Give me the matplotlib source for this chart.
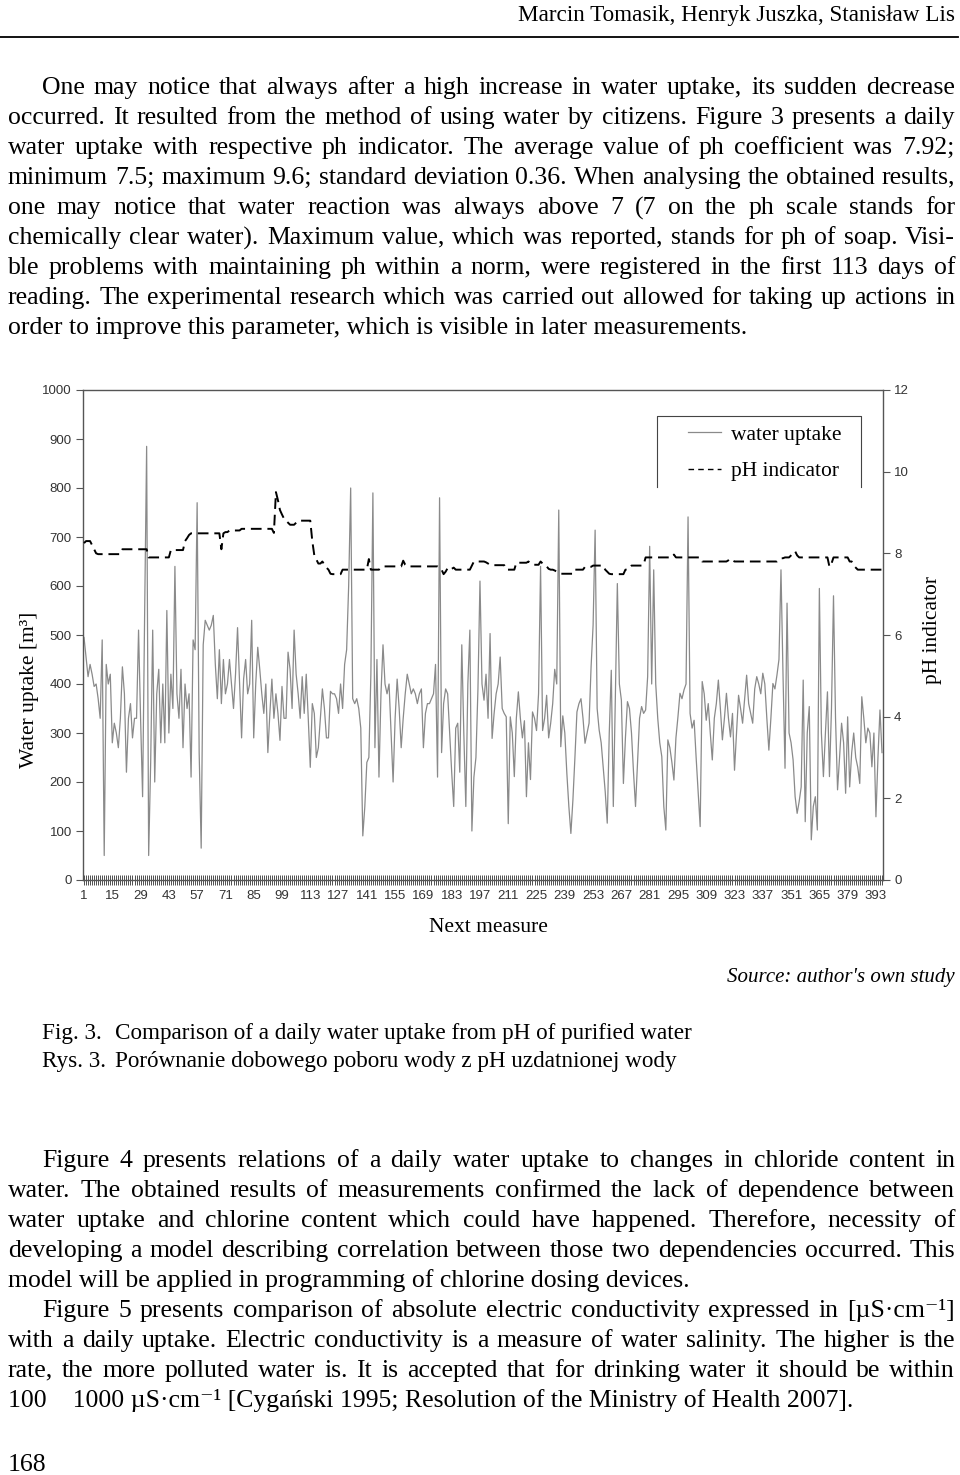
import math
import numpy as np
import matplotlib
matplotlib.use("Agg")
import matplotlib.pyplot as plt
from matplotlib.lines import Line2D

W, H = 960, 1475
SERIF = ["Liberation Serif", "DejaVu Serif"]
SANS = ["Liberation Sans", "DejaVu Sans"]

# daily water uptake [m3]
water = [
    495, 455, 415, 440, 420, 395, 400, 370, 330, 490,
    50, 440, 400, 420, 280, 320, 300, 270, 330, 435,
    380, 220, 330, 360, 290, 330, 330, 510, 330, 170,
    540, 885, 50, 240, 510, 200, 380, 430, 280, 400,
    280, 550, 300, 420, 350, 640, 380, 330, 430, 270,
    400, 350, 380, 210, 490, 470, 770, 260, 65, 480,
    530, 520, 510, 520, 540, 440, 370, 470, 360, 450,
    380, 400, 450, 400, 350, 420, 515, 400, 290, 410,
    450, 380, 400, 530, 290, 400, 475, 430, 380, 340,
    400, 260, 340, 410, 330, 380, 340, 285, 395, 330,
    330, 465, 430, 350, 510, 420, 380, 330, 415, 340,
    420, 330, 230, 360, 340, 250, 270, 330, 390, 350,
    290, 290, 385, 380, 380, 370, 340, 400, 350, 440,
    470, 600, 800, 370, 360, 370, 350, 310, 90, 150,
    240, 250, 420, 790, 270, 450, 210, 380, 480, 400,
    380, 400, 300, 200, 330, 410, 350, 270, 330, 380,
    420, 400, 380, 390, 380, 360, 380, 390, 270, 340,
    360, 360, 370, 380, 440, 210, 780, 260, 360, 390,
    380, 300, 220, 150, 310, 320, 220, 480, 300, 150,
    400, 510, 100, 210, 250, 390, 610, 400, 367, 420,
    330, 503, 289, 340, 380, 400, 455, 350, 340, 333,
    115, 333, 300, 211, 330, 384, 330, 290, 325, 170,
    280, 205, 343, 330, 305, 380, 640, 305, 330, 377,
    290, 320, 360, 430, 400, 755, 272, 335, 300, 218,
    150, 95, 163, 250, 343, 360, 370, 330, 279, 300,
    320, 435, 520, 714, 350, 306, 280, 230, 180, 116,
    300, 428, 150, 370, 605, 400, 367, 197, 290, 364,
    350, 300, 220, 150, 240, 330, 354, 340, 347, 415,
    681, 400, 633, 400, 330, 280, 252, 150, 102, 286,
    270, 240, 204, 290, 333, 381, 370, 388, 400, 741,
    340, 310, 326, 250, 180, 109, 405, 380, 326, 360,
    300, 245, 330, 360, 408, 350, 286, 330, 381, 330,
    292, 340, 224, 300, 377, 350, 320, 370, 418, 360,
    340, 320, 390, 415, 400, 380, 422, 400, 330, 265,
    330, 401, 390, 418, 450, 633, 420, 228, 565, 300,
    280, 245, 170, 136, 160, 190, 408, 119, 300, 354,
    82, 150, 170, 102, 595, 300, 211, 300, 384, 211,
    350, 580, 330, 184, 250, 320, 280, 177, 333, 190,
    260, 300, 250, 230, 197, 374, 330, 280, 310, 300,
    231, 300, 129, 250, 347, 260,
]

# pH indicator
ph = [
    8.25, 8.3, 8.3, 8.3, 8.2, 8.1, 8.0, 7.98, 7.98, 7.98,
    7.98, 7.98, 7.98, 7.98, 7.98, 7.98, 7.98, 7.98, 7.98, 8.1,
    8.1, 8.1, 8.1, 8.1, 8.1, 8.1, 8.1, 8.1, 8.1, 8.1,
    8.1, 8.1, 7.9, 7.9, 7.9, 7.9, 7.9, 7.9, 7.9, 7.9,
    7.9, 7.9, 7.9, 8.08, 8.08, 8.08, 8.08, 8.08, 8.08, 8.08,
    8.3, 8.37, 8.45, 8.49, 8.49, 8.49, 8.49, 8.49, 8.49, 8.49,
    8.49, 8.49, 8.49, 8.49, 8.49, 8.49, 8.49, 8.49, 8.1, 8.49,
    8.52, 8.52, 8.56, 8.56, 8.56, 8.56, 8.56, 8.56, 8.6, 8.6,
    8.6, 8.6, 8.6, 8.6, 8.6, 8.6, 8.6, 8.6, 8.6, 8.6,
    8.6, 8.6, 8.6, 8.6, 8.5, 9.5, 9.3, 9.06, 8.95, 8.85,
    8.8, 8.75, 8.7, 8.7, 8.7, 8.75, 8.8, 8.8, 8.8, 8.8,
    8.8, 8.8, 8.8, 8.3, 7.95, 7.85, 7.75, 7.75, 7.8, 7.72,
    7.65, 7.6, 7.5, 7.49, 7.49, 7.49, 7.49, 7.49, 7.6, 7.6,
    7.6, 7.6, 7.6, 7.6, 7.6, 7.6, 7.6, 7.6, 7.6, 7.6,
    7.6, 7.86, 7.6, 7.6, 7.6, 7.6, 7.6, 7.65, 7.68, 7.68,
    7.68, 7.68, 7.68, 7.68, 7.68, 7.68, 7.68, 7.68, 7.82, 7.72,
    7.68, 7.68, 7.68, 7.68, 7.68, 7.68, 7.68, 7.68, 7.68, 7.68,
    7.68, 7.68, 7.68, 7.68, 7.68, 7.68, 7.65, 7.6, 7.49, 7.55,
    7.64, 7.6, 7.62, 7.65, 7.6, 7.6, 7.6, 7.6, 7.6, 7.6,
    7.6, 7.6, 7.7, 7.8, 7.8, 7.8, 7.8, 7.8, 7.8, 7.78,
    7.75, 7.72, 7.71, 7.71, 7.71, 7.71, 7.71, 7.71, 7.71, 7.6,
    7.6, 7.6, 7.6, 7.6, 7.77, 7.77, 7.77, 7.77, 7.77, 7.77,
    7.8, 7.75, 7.72, 7.72, 7.72, 7.72, 7.8, 7.75, 7.7, 7.68,
    7.62, 7.6, 7.6, 7.58, 7.55, 7.52, 7.5, 7.5, 7.5, 7.5,
    7.5, 7.5, 7.5, 7.6, 7.6, 7.6, 7.6, 7.6, 7.67, 7.67,
    7.67, 7.67, 7.7, 7.7, 7.7, 7.7, 7.7, 7.7, 7.6, 7.55,
    7.5, 7.49, 7.49, 7.49, 7.49, 7.49, 7.49, 7.49, 7.6, 7.6,
    7.65, 7.7, 7.7, 7.7, 7.7, 7.7, 7.7, 7.72, 7.9, 7.9,
    7.9, 7.9, 7.9, 7.9, 7.9, 7.9, 7.9, 7.9, 7.9, 7.9,
    7.9, 7.9, 7.97, 7.9, 7.9, 7.9, 7.9, 7.9, 7.9, 7.9,
    7.9, 7.9, 7.9, 7.9, 7.9, 7.9, 7.8, 7.8, 7.8, 7.8,
    7.8, 7.8, 7.8, 7.8, 7.8, 7.8, 7.8, 7.8, 7.8, 7.83,
    7.87, 7.83, 7.8, 7.8, 7.8, 7.8, 7.8, 7.8, 7.8, 7.8,
    7.8, 7.8, 7.8, 7.8, 7.8, 7.8, 7.8, 7.8, 7.8, 7.8,
    7.8, 7.8, 7.8, 7.8, 7.85, 7.88, 7.88, 7.9, 7.9, 7.9,
    7.95, 8.0, 8.05, 7.95, 7.9, 7.9, 7.9, 7.9, 7.9, 7.9,
    7.9, 7.9, 7.9, 7.9, 7.9, 7.9, 7.9, 7.9, 7.9, 7.67,
    7.75, 7.9, 7.9, 7.9, 7.9, 7.9, 7.9, 7.9, 7.9, 7.8,
    7.8, 7.7, 7.65, 7.6, 7.6, 7.6, 7.6, 7.6, 7.6, 7.6,
    7.6, 7.6, 7.6, 7.6, 7.6, 7.6,
]

days = np.arange(1, len(water) + 1)
x_labels = list(range(1, 394, 14))
water_ticks = list(range(0, 1001, 100))
ph_ticks = list(range(0, 13, 2))

header = "Marcin Tomasik, Henryk Juszka, Stanisław Lis"
para1 = [
    "One may notice that always after a high increase in water uptake, its sudden decrease",
    "occurred. It resulted from the method of using water by citizens. Figure 3 presents a daily",
    "water uptake with respective ph indicator. The average value of ph coefficient was 7.92;",
    "minimum 7.5; maximum 9.6; standard deviation 0.36. When analysing the obtained results,",
    "one may notice that water reaction was always above 7 (7 on the ph scale stands for",
    "chemically clear water). Maximum value, which was reported, stands for ph of soap. Visi-",
    "ble problems with maintaining ph within a norm, were registered in the first 113 days of",
    "reading. The experimental research which was carried out allowed for taking up actions in",
    "order to improve this parameter, which is visible in later measurements.",
]
para2 = [
    "Figure 4 presents relations of a daily water uptake to changes in chloride content in",
    "water. The obtained results of measurements confirmed the lack of dependence between",
    "water uptake and chlorine content which could have happened. Therefore, necessity of",
    "developing a model describing correlation between those two dependencies occurred. This",
    "model will be applied in programming of chlorine dosing devices.",
]
para3 = [
    "Figure 5 presents comparison of absolute electric conductivity expressed in [µS·cm⁻¹]",
    "with a daily uptake. Electric conductivity is a measure of water salinity. The higher is the",
    "rate, the more polluted water is. It is accepted that for drinking water it should be within",
    "100    1000 µS·cm⁻¹ [Cygański 1995; Resolution of the Ministry of Health 2007].",
]

FS = 18.5      # body text
FS_CAP = 16.7  # header and figure caption

fig = plt.figure(figsize=(W / 100, H / 100), dpi=100)
renderer = fig.canvas.get_renderer()


def fx(x):
    return x / W


def fy(y):
    return 1 - y / H


def place(t, x, y):
    # put the baseline of t on pixel row y; Agg rounds the glyph bitmap,
    # which drops words whose only descender is a comma or bracket
    _, h, d = renderer.get_text_width_height_descent(t.get_text(), t.get_fontproperties(), False)
    a = h - d
    yb = round(y) - math.floor(a + 1e-6) + math.floor(h + 1e-6) - d
    t.set_position((fx(x), fy(yb)))


def put_line(s, y, x0, x1, justify):
    if not justify:
        t = fig.text(0, 0, s, fontsize=FS, family=SERIF, va="baseline", ha="left")
        place(t, x0, y)
        return
    # justified line: one text per word, gaps spread evenly
    words = s.split()
    ts = [fig.text(0, 0, w, fontsize=FS, family=SERIF, va="baseline", ha="left") for w in words]
    widths = [t.get_window_extent(renderer).width for t in ts]
    gap = (x1 - x0 - sum(widths)) / max(len(words) - 1, 1)
    x = x0
    for t, w in zip(ts, widths):
        place(t, x, y)
        x += w + gap


def put_par(lines, y0, step=30):
    for i, s in enumerate(lines):
        x0 = 42 if i == 0 else 8
        put_line(s, y0 + i * step, x0, 955, i < len(lines) - 1)


# page text
fig.text(fx(955), fy(21), header, fontsize=FS_CAP, family=SERIF, ha="right", va="baseline")
fig.add_artist(Line2D([0, fx(958)], [fy(37), fy(37)], color="black", lw=1.3))
put_par(para1, 94)
put_par(para2, 1167)
put_par(para3, 1317)
fig.text(fx(8), fy(1471), "168", fontsize=FS, family=SERIF, va="baseline")

fig.text(fx(955), fy(982), "Source: author's own study", fontsize=15,
         family=SERIF, style="italic", ha="right", va="baseline")
fig.text(fx(42), fy(1039), "Fig. 3.", fontsize=FS_CAP, family=SERIF, va="baseline")
fig.text(fx(42), fy(1067), "Rys. 3.", fontsize=FS_CAP, family=SERIF, va="baseline")
fig.text(fx(115), fy(1039), "Comparison of a daily water uptake from pH of purified water",
         fontsize=FS_CAP, family=SERIF, va="baseline")
fig.text(fx(115), fy(1067), "Porównanie dobowego poboru wody z pH uzdatnionej wody",
         fontsize=FS_CAP, family=SERIF, va="baseline")

# chart
ax = fig.add_axes([fx(83), fy(880), 800 / W, 490 / H])
ax.plot(days, water, color="#8a8a8a", lw=0.9)
ax.set_xlim(0.5, 396.5)
ax.set_ylim(0, 1000)
ax.set_yticks(water_ticks)
ax.set_xticks(x_labels)
ax.set_xticks(days, minor=True)
for sp in ax.spines.values():
    sp.set_color("#555555")
    sp.set_linewidth(1.0)
ax.tick_params(axis="y", direction="out", length=5, width=0.8, color="#555555",
               labelsize=9.5, labelcolor="#333333", pad=3)
ax.tick_params(axis="x", which="both", direction="inout", length=7, width=0.6,
               color="#333333", labelsize=9.5, labelcolor="#333333", pad=4)
for lab in ax.get_xticklabels() + ax.get_yticklabels():
    lab.set_family(SANS)

ax2 = ax.twinx()
ax2.plot(days, ph, color="black", lw=1.4, dashes=(5.5, 3))
ax2.set_ylim(0, 12)
ax2.set_yticks(ph_ticks)
ax2.tick_params(axis="y", direction="out", length=5, width=0.8, color="#555555",
                labelsize=9.5, labelcolor="#333333", pad=3)
for lab in ax2.get_yticklabels():
    lab.set_family(SANS)
for sp in ax2.spines.values():
    sp.set_visible(False)

# open-bottom legend box
bx0, bx1, by0, by1 = 0.7175, 0.9725, 0.802, 0.947
ax.plot([bx0, bx0, bx1, bx1], [by0, by1, by1, by0], transform=ax.transAxes,
        color="#444444", lw=0.8, clip_on=False)
handles = [Line2D([], [], color="#8a8a8a", lw=0.9),
           Line2D([], [], color="black", lw=1.0, dashes=(4, 3))]
ax.legend(handles, ["water uptake", "pH indicator"], loc="upper left",
          bbox_to_anchor=(0.7325, 0.969), frameon=False, handlelength=1.5,
          handletextpad=0.47, labelspacing=0.78, prop={"family": SERIF, "size": 15.5})

fig.text(fx(30), fy(690), "Water uptake [m³]", fontsize=15.5, family=SERIF,
         rotation=90, ha="center", va="center")
fig.text(fx(932), fy(630), "pH indicator", fontsize=15.5, family=SERIF,
         rotation=90, ha="center", va="center")
fig.text(fx(488), fy(927), "Next measure", fontsize=15.5, family=SERIF,
         ha="center", va="center")

fig.savefig("out.png", dpi=100)
